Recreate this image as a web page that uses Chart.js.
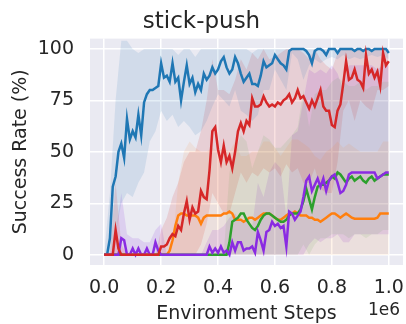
<!DOCTYPE html>
<html>
<head>
<meta charset="utf-8">
<script src="https://cdn.jsdelivr.net/npm/chart.js@4.4.1/dist/chart.umd.min.js"></script>
<style>
  html, body { margin: 0; padding: 0; background: #fff; }
  #chart { display: block; }
</style>
</head>
<body>
<canvas id="chart" width="406" height="324"></canvas>
<script>
// x in units of 1e6 environment steps
const steps = Array.from({ length: 101 }, (_, i) => i / 100);
const bandSteps = Array.from({ length: 51 }, (_, i) => i / 50);
const xTicks = [0, 0.2, 0.4, 0.6, 0.8, 1.0];
const yTicks = [0, 25, 50, 75, 100];

// mean success rate per method (%)
const blue = [
  0, 0, 8, 33, 38, 50, 54, 47, 66, 56,
  60, 57, 68, 58, 74, 78, 80, 80, 81, 82,
  93, 86, 87, 84, 93, 84, 86, 75, 84, 92,
  83, 86, 79, 83, 80, 88, 85, 87, 91, 88,
  90, 94, 96, 91, 88, 90, 96, 93, 88, 84,
  86, 88, 83, 83, 82, 87, 94, 91, 92, 93,
  97, 95, 93, 92, 90, 99, 100, 100, 100, 100,
  100, 99, 97, 93, 99, 100, 100, 99, 97, 100,
  100, 100, 98, 100, 100, 100, 100, 100, 99, 100,
  100, 99, 100, 100, 99, 100, 100, 100, 100, 100,
  98
];
const red = [
  0, 0, 0, 0, 12, 3, 0, 0, 0, 0,
  0, 0, 0, 0, 0, 0, 0, 0, 0, 0,
  4, 4, 5, 8, 10, 9, 14, 12, 20, 26,
  17, 23, 20, 21, 31, 28, 27, 41, 60, 62,
  51, 45, 53, 45, 48, 42, 50, 60, 64, 60,
  65, 63, 76, 72, 72, 73, 77, 74, 72, 73,
  72, 74, 73, 75, 76, 78, 74, 76, 80, 76,
  77, 74, 71, 75, 72, 76, 80, 72, 70, 70,
  63, 62, 70, 73, 83, 94, 85, 86, 90, 85,
  84, 81, 97, 88, 90, 86, 89, 82, 98, 92,
  94
];
const orange = [
  0, 0, 0, 0, 0, 0, 0, 0, 0, 0,
  0, 0, 0, 0, 0, 0, 0, 0, 0, 0,
  0, 0, 0, 2, 7, 14, 19, 20, 20, 19,
  19, 19, 19, 18, 15, 18, 19, 19, 19, 19,
  19, 19, 20, 20, 21, 20, 17, 17, 17, 16,
  17, 18, 18, 17, 18, 19, 20, 20, 20, 19,
  18, 17, 17, 18, 19, 20, 20, 21, 20, 19,
  19, 19, 18, 18, 17, 17, 16, 17, 18, 19,
  20, 20, 19, 18, 19, 20, 19, 18, 17.5, 17.5,
  17.5, 17.5, 17.5, 17.5, 17.5, 17.5, 18, 20, 20, 20,
  20
];
const green = [
  0, 0, 0, 0, 0, 0, 0, 0, 0, 0,
  0, 0, 0, 0, 0, 0, 0, 0, 0, 0,
  0, 0, 0, 0, 0, 0, 0, 0, 0, 0,
  0, 0, 0, 0, 0, 0, 0, 0, 0, 0,
  0, 0, 0, 0, 6, 16, 17, 18, 20, 20,
  17, 15, 13, 12, 14, 17, 19, 20, 20, 19,
  18, 17, 16, 16, 17, 19, 20, 20, 20, 22,
  26, 32, 27, 22, 28, 33, 34, 34, 35, 36,
  38, 37, 40, 39, 37, 35, 37, 38, 36, 37,
  38, 36, 35, 37, 38, 36, 37, 38, 39, 39,
  39
];
const purple = [
  0, 0, 0, 0, 0, 0, 8, 7, 0, 0,
  3, 0, 3, 0, 0, 3, 0, 0, 6, 2,
  0, 0, 0, 0, 0, 0, 0, 0, 0, 0,
  0, 0, 0, 0, 0, 0, 0, 4, 1, 3,
  1, 4, 1, 2, 0, 6, 2, 6, 6, 2,
  3, 3, 4, 1, 11, 7, 2, 11, 12, 16,
  14, 15, 13, 14, 4, 21, 20, 17, 19, 21,
  28, 36, 38, 31, 34, 37, 33, 37, 31, 36,
  38, 39, 35, 30, 31, 34, 39, 40, 40, 40,
  40, 40, 40, 40, 40, 40, 37, 38, 39, 40,
  40
];

// shaded spread per method, sampled every 0.02e6 steps
const blueLo = [
  0, 0, 10, 25, 30, 28, 35, 40, 55, 60,
  70, 65, 68, 62, 65, 62, 58, 60, 65, 72,
  78, 75, 72, 80, 70, 68, 65, 68, 80, 80,
  90, 85, 80, 98, 95, 85, 92, 95, 93, 95,
  96, 95, 97, 95, 96, 95, 96, 97, 96, 97,
  95
];
const blueHi = [
  0, 30, 75, 104, 104, 100, 98, 100, 100, 100,
  100, 100, 100, 97, 100, 100, 96, 100, 100, 100,
  100, 100, 100, 100, 100, 100, 98, 100, 100, 100,
  100, 100, 100, 100, 100, 100, 100, 100, 100, 100,
  100, 100, 100, 100, 100, 100, 100, 100, 100, 100,
  100
];
const redLo = [
  0, 0, 0, 0, 0, 0, 0, 0, 0, 0,
  0, 0, 0, 0, 0, 0, 0, 5, 15, 30,
  25, 20, 20, 30, 40, 35, 40, 38, 42, 40,
  42, 38, 44, 40, 42, 35, 35, 42, 32, 30,
  30, 45, 70, 75, 65, 75, 72, 70, 80, 80,
  82
];
const redHi = [
  0, 0, 35, 5, 0, 0, 0, 0, 0, 0,
  12, 18, 28, 35, 45, 50, 50, 60, 75, 95,
  80, 80, 78, 85, 95, 90, 98, 95, 100, 95,
  96, 98, 100, 100, 100, 98, 95, 100, 95, 92,
  90, 98, 100, 100, 100, 100, 100, 100, 100, 100,
  100
];
const orangeLo = [
  0, 0, 0, 0, 0, 0, 0, 0, 0, 0,
  0, 0, 0, 0, 0, 0, 0, 0, 0, 0,
  0, 0, 0, 0, 0, 0, 0, 0, 0, 0,
  0, 0, 0, 0, 0, 0, 0, 0, 0, 0,
  0, 0, 0, 0, 0, 0, 0, 0, 0, 0,
  0
];
const orangeHi = [
  0, 0, 0, 0, 0, 0, 0, 0, 0, 0,
  0, 0, 5, 35, 50, 55, 52, 50, 50, 52,
  50, 52, 50, 55, 48, 48, 50, 50, 55, 55,
  52, 48, 52, 56, 56, 54, 52, 48, 46, 50,
  52, 55, 52, 54, 52, 50, 50, 50, 50, 55,
  55
];
const greenLo = [
  0, 0, 0, 0, 0, 0, 0, 0, 0, 0,
  0, 0, 0, 0, 0, 0, 0, 0, 0, 0,
  0, 0, 0, 0, 0, 0, 0, 0, 0, 0,
  0, 0, 0, 0, 0, 5, 0, 5, 8, 8,
  10, 10, 10, 8, 10, 10, 8, 10, 10, 12,
  12
];
const greenHi = [
  0, 0, 0, 0, 0, 0, 0, 0, 0, 0,
  0, 0, 0, 0, 0, 0, 0, 0, 0, 0,
  0, 0, 40, 50, 58, 55, 42, 50, 58, 56,
  52, 52, 55, 58, 62, 80, 62, 78, 80, 80,
  84, 86, 84, 82, 82, 84, 80, 82, 82, 84,
  84
];
const purpleLo = [
  0, 0, 0, 0, 0, 0, 0, 0, 0, 0,
  0, 0, 0, 0, 0, 0, 0, 0, 0, 0,
  0, 0, 0, 0, 0, 0, 0, 0, 0, 0,
  0, 0, 0, 0, 0, 0, 5, 8, 6, 8,
  8, 10, 6, 6, 10, 10, 10, 10, 10, 10,
  10
];
const purpleHi = [
  0, 0, 10, 30, 10, 8, 8, 6, 6, 12,
  15, 0, 0, 0, 0, 0, 0, 0, 6, 12,
  12, 14, 18, 20, 16, 16, 14, 35, 28, 40,
  45, 42, 18, 58, 60, 75, 90, 88, 90, 88,
  92, 88, 80, 92, 92, 92, 92, 92, 90, 92,
  92
];

const textColor = '#262626';
const fontFamily = "'DejaVu Sans', sans-serif";

function pts(xs, ys) {
    return xs.map((x, i) => ({ x: x, y: ys[i] }));
}

function band(hi, lo, color) {
    return [
        { data: pts(bandSteps, hi), borderWidth: 0, pointRadius: 0, fill: '+1', backgroundColor: color, order: 10 },
        { data: pts(bandSteps, lo), borderWidth: 0, pointRadius: 0, fill: false, order: 10 }
    ];
}

function line(ys, color, order) {
    return { data: pts(steps, ys), borderColor: color, borderWidth: 2.5, pointRadius: 0, fill: false, tension: 0, order: order };
}

// plot background (seaborn darkgrid style)
const plotBackground = {
    id: 'plotBackground',
    beforeDraw(chart) {
        const { ctx, chartArea } = chart;
        ctx.save();
        ctx.fillStyle = '#eaeaf2';
        ctx.fillRect(chartArea.left, chartArea.top, chartArea.right - chartArea.left, chartArea.bottom - chartArea.top);
        ctx.restore();
    }
};

// the "1e6" offset label under the x axis
const offsetLabel = {
    id: 'offsetLabel',
    afterDraw(chart) {
        const { ctx, chartArea } = chart;
        ctx.save();
        ctx.font = '17px ' + fontFamily;
        ctx.fillStyle = textColor;
        ctx.textAlign = 'right';
        ctx.textBaseline = 'middle';
        ctx.fillText('1e6', chartArea.right - 3, 311);
        ctx.restore();
    }
};

const datasets = [].concat(
    band(blueHi, blueLo, 'rgba(31, 119, 180, 0.12)'),
    band(orangeHi, orangeLo, 'rgba(255, 127, 14, 0.09)'),
    band(greenHi, greenLo, 'rgba(44, 160, 44, 0.09)'),
    band(redHi, redLo, 'rgba(214, 39, 40, 0.14)'),
    band(purpleHi, purpleLo, 'rgba(138, 43, 226, 0.14)'),
    [
        line(red, '#d62728', 0),
        line(purple, '#8a2be2', 1),
        line(green, '#2ca02c', 2),
        line(orange, '#ff7f0e', 3),
        line(blue, '#1f77b4', 4)
    ]
);

new Chart(document.getElementById('chart'), {
    type: 'line',
    data: { datasets: datasets },
    options: {
        responsive: false,
        animation: false,
        devicePixelRatio: 1,
        layout: { padding: { left: 0, right: 3, top: 0, bottom: 0 } },
        plugins: {
            legend: { display: false },
            tooltip: { enabled: false },
            title: {
                display: true,
                text: 'stick-push',
                color: textColor,
                font: { family: fontFamily, size: 23, weight: 'normal' },
                padding: { top: 8, bottom: 3 }
            }
        },
        scales: {
            x: {
                type: 'linear',
                min: -0.05,
                max: 1.05,
                afterBuildTicks: (scale) => { scale.ticks = xTicks.map(v => ({ value: v })); },
                afterFit: (scale) => {
                    scale.height = 59;
                    scale.paddingLeft = 0;
                    scale.paddingRight = 0;
                },
                ticks: {
                    callback: (v) => v.toFixed(1),
                    color: textColor,
                    font: { family: fontFamily, size: 19 },
                    padding: 12,
                    maxRotation: 0,
                    autoSkip: false
                },
                grid: { color: '#ffffff', lineWidth: 1.5, drawTicks: false },
                border: { display: false },
                title: {
                    display: true,
                    text: 'Environment Steps',
                    color: textColor,
                    font: { family: fontFamily, size: 19 },
                    padding: { top: 0, bottom: -1 }
                }
            },
            y: {
                min: -5,
                max: 105,
                afterBuildTicks: (scale) => { scale.ticks = yTicks.map(v => ({ value: v })); },
                afterFit: (scale) => { scale.width = 90; },
                ticks: {
                    color: textColor,
                    font: { family: fontFamily, size: 19 },
                    padding: 16
                },
                grid: { color: '#ffffff', lineWidth: 1.5, drawTicks: false },
                border: { display: false },
                title: {
                    display: true,
                    text: 'Success Rate (%)',
                    color: textColor,
                    font: { family: fontFamily, size: 19 },
                    padding: { top: 10, bottom: 0 }
                }
            }
        }
    },
    plugins: [plotBackground, offsetLabel]
});
</script>
</body>
</html>
